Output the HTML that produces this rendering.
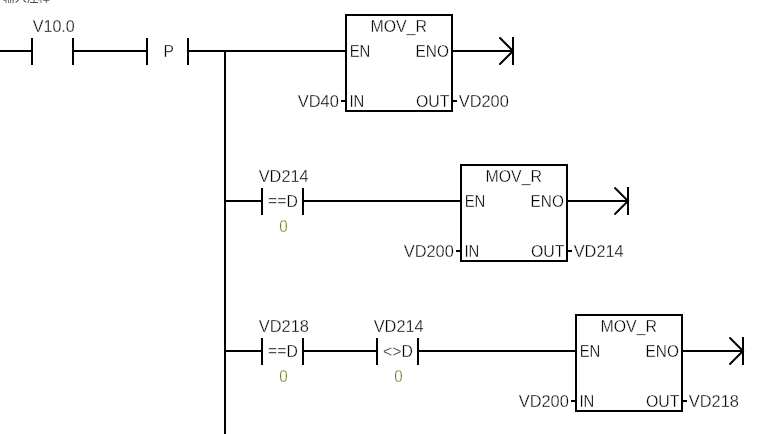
<!DOCTYPE html>
<html lang="zh"><head><meta charset="utf-8"><title>LAD</title>
<style>
html,body{margin:0;padding:0;background:#fff;overflow:hidden}
body{width:766px;height:434px;position:relative}
#c{position:absolute;left:3px;top:-8px;font:12px/12px "Liberation Sans","Noto Sans CJK SC",sans-serif;color:#505050;white-space:nowrap;letter-spacing:-0.3px;will-change:transform}
svg{position:absolute;left:0;top:0;display:block}
svg .t{will-change:transform}
svg text{font-family:"Liberation Sans",sans-serif;font-size:16px;fill:#000;stroke:#fff;stroke-width:0.3px;paint-order:fill stroke}
svg text.v{fill:#74741a}
</style></head><body>
<div id="c">输入注释</div>
<svg width="766" height="434" viewBox="0 0 766 434" shape-rendering="crispEdges">
<rect x="0" y="50" width="31" height="2" fill="#000"/>
<rect x="31" y="38" width="2" height="27" fill="#000"/>
<rect x="72" y="38" width="2" height="27" fill="#000"/>
<rect x="74" y="50" width="72" height="2" fill="#000"/>
<rect x="146" y="38" width="2" height="27" fill="#000"/>
<rect x="187" y="38" width="2" height="27" fill="#000"/>
<rect x="189" y="50" width="156" height="2" fill="#000"/>
<rect x="346" y="15" width="106" height="96" fill="none" stroke="#000" stroke-width="2"/>
<rect x="341" y="100" width="4" height="2" fill="#000"/>
<rect x="453" y="100" width="4" height="2" fill="#000"/>
<rect x="453" y="50" width="59" height="2" fill="#000"/>
<rect x="512" y="37" width="2" height="28" fill="#000"/>
<path d="M500 38 L513 51 L500 64" fill="none" stroke="#000" stroke-width="2" stroke-linecap="round" shape-rendering="geometricPrecision"/>
<rect x="224" y="50" width="2" height="384" fill="#000"/>
<rect x="226" y="200" width="35" height="2" fill="#000"/>
<rect x="261" y="188" width="2" height="27" fill="#000"/>
<rect x="302" y="188" width="2" height="27" fill="#000"/>
<rect x="304" y="200" width="156" height="2" fill="#000"/>
<rect x="461" y="165" width="106" height="96" fill="none" stroke="#000" stroke-width="2"/>
<rect x="456" y="250" width="4" height="2" fill="#000"/>
<rect x="568" y="250" width="4" height="2" fill="#000"/>
<rect x="568" y="200" width="59" height="2" fill="#000"/>
<rect x="627" y="187" width="2" height="28" fill="#000"/>
<path d="M615 188 L628 201 L615 214" fill="none" stroke="#000" stroke-width="2" stroke-linecap="round" shape-rendering="geometricPrecision"/>
<rect x="226" y="350" width="35" height="2" fill="#000"/>
<rect x="261" y="338" width="2" height="27" fill="#000"/>
<rect x="302" y="338" width="2" height="27" fill="#000"/>
<rect x="304" y="350" width="72" height="2" fill="#000"/>
<rect x="376" y="338" width="2" height="27" fill="#000"/>
<rect x="417" y="338" width="2" height="27" fill="#000"/>
<rect x="419" y="350" width="156" height="2" fill="#000"/>
<rect x="576" y="315" width="106" height="96" fill="none" stroke="#000" stroke-width="2"/>
<rect x="571" y="400" width="4" height="2" fill="#000"/>
<rect x="683" y="400" width="4" height="2" fill="#000"/>
<rect x="683" y="350" width="59" height="2" fill="#000"/>
<rect x="742" y="337" width="2" height="28" fill="#000"/>
<path d="M730 338 L743 351 L730 364" fill="none" stroke="#000" stroke-width="2" stroke-linecap="round" shape-rendering="geometricPrecision"/>
<g class="t">
<text x="32.75" y="32" textLength="42.02" lengthAdjust="spacingAndGlyphs">V10.0</text>
<text x="163.59" y="57" textLength="10.41" lengthAdjust="spacingAndGlyphs">P</text>
<text x="370.56" y="32" textLength="56.38" lengthAdjust="spacingAndGlyphs">MOV_R</text>
<text x="349.65" y="57" textLength="20.73" lengthAdjust="spacingAndGlyphs">EN</text>
<text x="415.61" y="57" textLength="33.28" lengthAdjust="spacingAndGlyphs">ENO</text>
<text x="349.47" y="107" textLength="14.88" lengthAdjust="spacingAndGlyphs">IN</text>
<text x="416.06" y="107" textLength="33.46" lengthAdjust="spacingAndGlyphs">OUT</text>
<text x="297.74" y="107" textLength="41.05" lengthAdjust="spacingAndGlyphs">VD40</text>
<text x="458.74" y="107" textLength="50.05" lengthAdjust="spacingAndGlyphs">VD200</text>
<text x="258.75" y="182" textLength="49.84" lengthAdjust="spacingAndGlyphs">VD214</text>
<text x="268.06" y="207" textLength="29.82" lengthAdjust="spacingAndGlyphs"><tspan dy="-1">==</tspan><tspan dy="1">D</tspan></text>
<text x="279.29" y="232" textLength="8.42" lengthAdjust="spacingAndGlyphs" class="v">0</text>
<text x="485.56" y="182" textLength="56.38" lengthAdjust="spacingAndGlyphs">MOV_R</text>
<text x="464.65" y="207" textLength="20.73" lengthAdjust="spacingAndGlyphs">EN</text>
<text x="530.61" y="207" textLength="33.28" lengthAdjust="spacingAndGlyphs">ENO</text>
<text x="464.47" y="257" textLength="14.88" lengthAdjust="spacingAndGlyphs">IN</text>
<text x="531.06" y="257" textLength="33.46" lengthAdjust="spacingAndGlyphs">OUT</text>
<text x="403.74" y="257" textLength="50.05" lengthAdjust="spacingAndGlyphs">VD200</text>
<text x="573.75" y="257" textLength="49.84" lengthAdjust="spacingAndGlyphs">VD214</text>
<text x="258.74" y="332" textLength="50.15" lengthAdjust="spacingAndGlyphs">VD218</text>
<text x="268.06" y="357" textLength="29.82" lengthAdjust="spacingAndGlyphs"><tspan dy="-1">==</tspan><tspan dy="1">D</tspan></text>
<text x="279.29" y="382" textLength="8.42" lengthAdjust="spacingAndGlyphs" class="v">0</text>
<text x="373.75" y="332" textLength="49.84" lengthAdjust="spacingAndGlyphs">VD214</text>
<text x="383.06" y="357" textLength="29.82" lengthAdjust="spacingAndGlyphs">&lt;&gt;D</text>
<text x="394.29" y="382" textLength="8.42" lengthAdjust="spacingAndGlyphs" class="v">0</text>
<text x="600.56" y="332" textLength="56.38" lengthAdjust="spacingAndGlyphs">MOV_R</text>
<text x="579.65" y="357" textLength="20.73" lengthAdjust="spacingAndGlyphs">EN</text>
<text x="645.61" y="357" textLength="33.28" lengthAdjust="spacingAndGlyphs">ENO</text>
<text x="579.47" y="407" textLength="14.88" lengthAdjust="spacingAndGlyphs">IN</text>
<text x="646.06" y="407" textLength="33.46" lengthAdjust="spacingAndGlyphs">OUT</text>
<text x="518.74" y="407" textLength="50.05" lengthAdjust="spacingAndGlyphs">VD200</text>
<text x="688.74" y="407" textLength="50.15" lengthAdjust="spacingAndGlyphs">VD218</text>
</g>
</svg>
</body></html>
